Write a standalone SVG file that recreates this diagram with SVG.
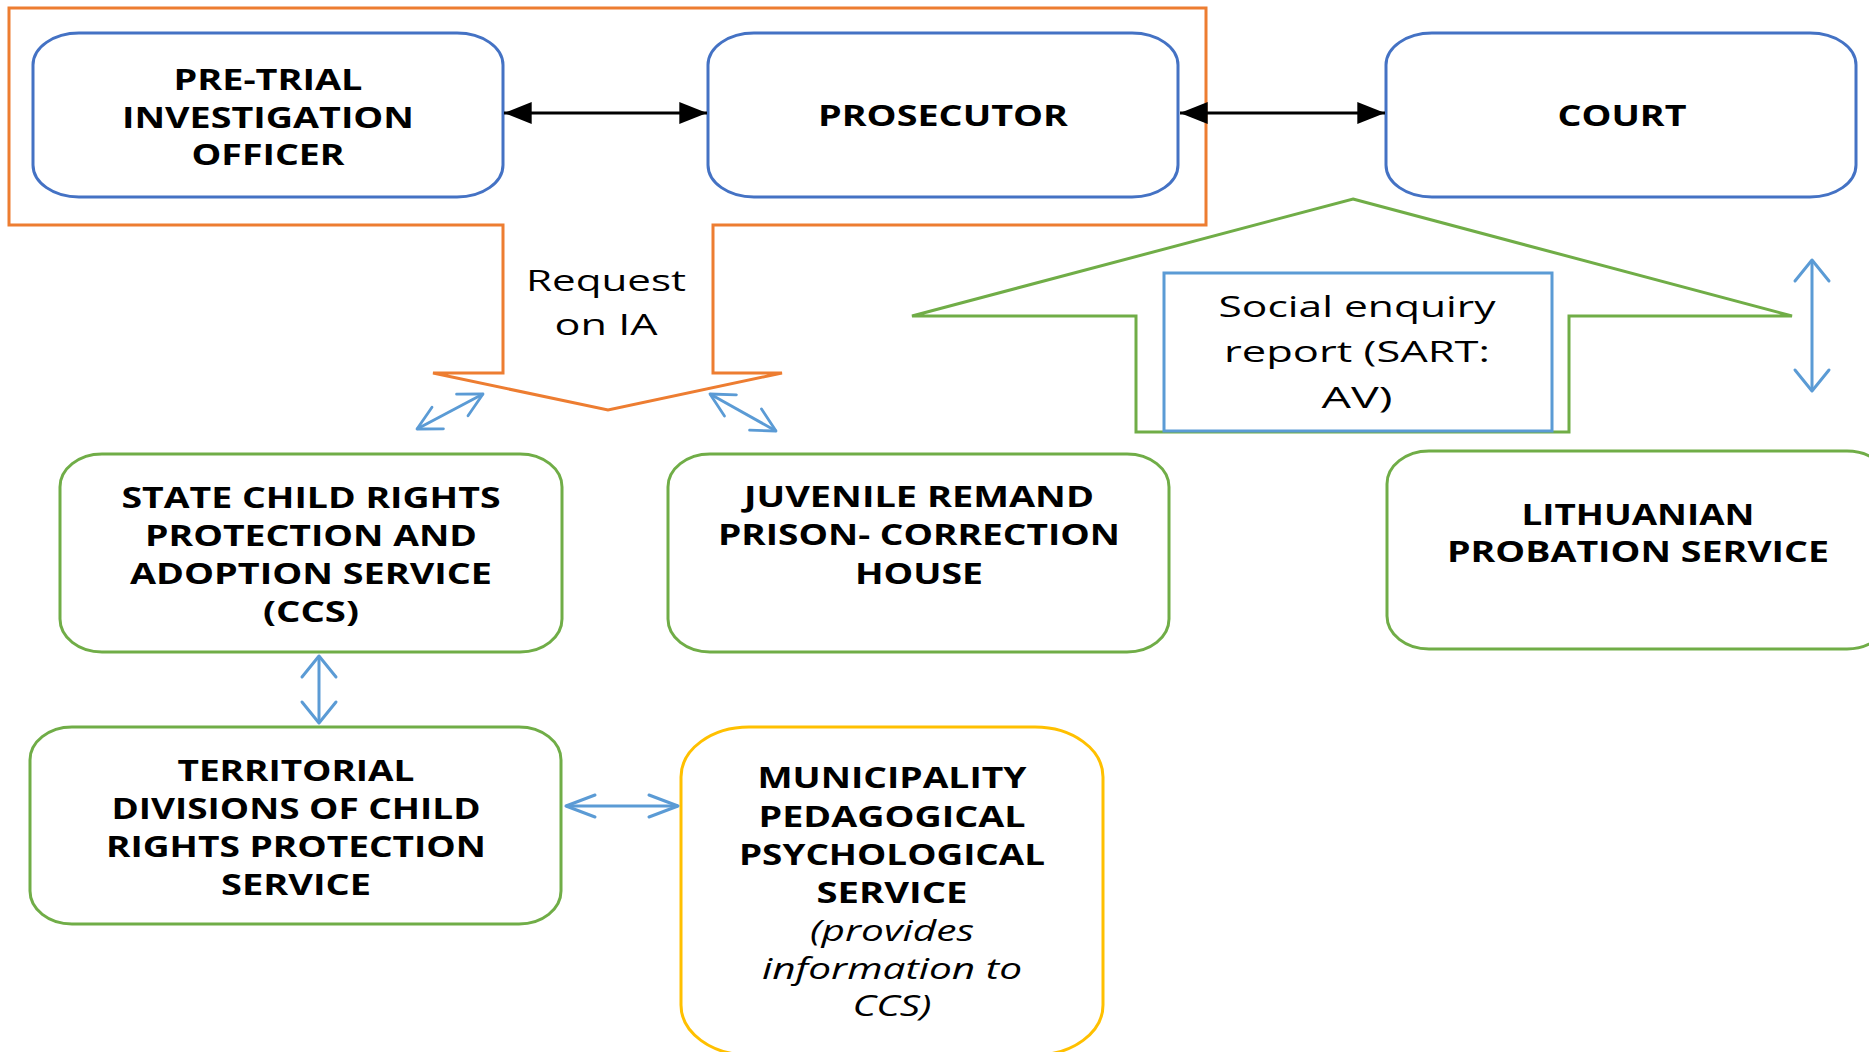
<svg xmlns="http://www.w3.org/2000/svg" width="1869" height="1052" viewBox="0 0 1869 1052">
<defs>
<style>
.bx{fill:#fff;stroke-width:3}
.blue{stroke:#4472C4}
.green{stroke:#70AD47}
.yellow{stroke:#FFC000}
.t{font-family:"Open Sans","Liberation Sans",sans-serif;font-weight:bold;font-size:28px;fill:#000;text-anchor:middle}
.r{font-family:"Open Sans","Liberation Sans",sans-serif;font-size:30px;fill:#000;text-anchor:middle}
.i{font-family:"Open Sans","Liberation Sans",sans-serif;font-style:italic;font-size:29px;fill:#000;text-anchor:middle}
.blk{stroke:#000;stroke-width:3;fill:none}
.lb{stroke:#5B9BD5;stroke-width:3;fill:none}
</style>
<marker id="tri" markerUnits="userSpaceOnUse" markerWidth="30" markerHeight="24" viewBox="-24 -10 26 20" refX="0" refY="0" orient="auto-start-reverse">
<path d="M-24,-9.5 L0,0 L-24,9.5 Z" fill="#000"/>
</marker>
<marker id="chv" markerUnits="userSpaceOnUse" markerWidth="30" markerHeight="40" viewBox="-24 -20 28 40" refX="0" refY="0" orient="auto-start-reverse">
<path d="M-21,-17 L0,0 L-21,17" fill="none" stroke="#5B9BD5" stroke-width="3" stroke-linecap="round" stroke-linejoin="round"/>
</marker>
<marker id="chd" markerUnits="userSpaceOnUse" markerWidth="30" markerHeight="40" viewBox="-28 -20 32 40" refX="0" refY="0" orient="auto-start-reverse">
<path d="M-25,-13 L0,0 L-25,13" fill="none" stroke="#5B9BD5" stroke-width="3" stroke-linecap="round" stroke-linejoin="round"/>
</marker>
<marker id="chh" markerUnits="userSpaceOnUse" markerWidth="36" markerHeight="30" viewBox="-32 -14 36 28" refX="0" refY="0" orient="auto-start-reverse">
<path d="M-29,-11 L0,0 L-29,11" fill="none" stroke="#5B9BD5" stroke-width="3" stroke-linecap="round" stroke-linejoin="round"/>
</marker>
</defs>
<rect width="1869" height="1052" fill="#fff"/>

<g id="request-callout">
<path d="M9,8 H1206 V225 H713 V373 H782 L608,410 L433,373 H503 V225 H9 Z" fill="none" stroke="#ED7D31" stroke-width="3"/>
<text class="r" x="606" y="291" textLength="160" lengthAdjust="spacingAndGlyphs">Request</text>
<text class="r" x="606" y="335" textLength="103" lengthAdjust="spacingAndGlyphs">on IA</text>
</g>

<g id="report-callout">
<path d="M1353,199 L1792,316 H1569 V432 H1136 V316 H912 Z" fill="none" stroke="#70AD47" stroke-width="3"/>
<rect x="1164" y="273" width="388" height="158" fill="#fff" stroke="#5B9BD5" stroke-width="3"/>
<text class="r" x="1357" y="317" textLength="277" lengthAdjust="spacingAndGlyphs">Social enquiry</text>
<text class="r" x="1357" y="362" textLength="266" lengthAdjust="spacingAndGlyphs">report (SART:</text>
<text class="r" x="1357" y="408" textLength="71" lengthAdjust="spacingAndGlyphs">AV)</text>
</g>

<g id="pretrial">
<rect class="bx blue" x="33" y="33" width="470" height="164" rx="46" ry="32"/>
<text class="t" x="268" y="90" textLength="189" lengthAdjust="spacingAndGlyphs">PRE-TRIAL</text>
<text class="t" x="268" y="128" textLength="292" lengthAdjust="spacingAndGlyphs">INVESTIGATION</text>
<text class="t" x="268" y="165" textLength="153" lengthAdjust="spacingAndGlyphs">OFFICER</text>
</g>

<g id="prosecutor">
<rect class="bx blue" x="708" y="33" width="470" height="164" rx="46" ry="32"/>
<text class="t" x="943" y="126" textLength="250" lengthAdjust="spacingAndGlyphs">PROSECUTOR</text>
</g>

<g id="court">
<rect class="bx blue" x="1386" y="33" width="470" height="164" rx="46" ry="32"/>
<text class="t" x="1622" y="126" textLength="129" lengthAdjust="spacingAndGlyphs">COURT</text>
</g>

<g id="ccs">
<rect class="bx green" x="60" y="454" width="502" height="198" rx="42" ry="33"/>
<text class="t" x="311" y="508" textLength="379" lengthAdjust="spacingAndGlyphs">STATE CHILD RIGHTS</text>
<text class="t" x="311" y="546" textLength="332" lengthAdjust="spacingAndGlyphs">PROTECTION AND</text>
<text class="t" x="311" y="584" textLength="362" lengthAdjust="spacingAndGlyphs">ADOPTION SERVICE</text>
<text class="t" x="311" y="622" textLength="96" lengthAdjust="spacingAndGlyphs">(CCS)</text>
</g>

<g id="juvenile">
<rect class="bx green" x="668" y="454" width="501" height="198" rx="42" ry="33"/>
<text class="t" x="919" y="507" textLength="350" lengthAdjust="spacingAndGlyphs">JUVENILE REMAND</text>
<text class="t" x="919" y="545" textLength="402" lengthAdjust="spacingAndGlyphs">PRISON- CORRECTION</text>
<text class="t" x="919" y="584" textLength="128" lengthAdjust="spacingAndGlyphs">HOUSE</text>
</g>

<g id="probation">
<rect class="bx green" x="1387" y="451" width="502" height="198" rx="42" ry="33"/>
<text class="t" x="1638" y="525" textLength="233" lengthAdjust="spacingAndGlyphs">LITHUANIAN</text>
<text class="t" x="1638" y="562" textLength="382" lengthAdjust="spacingAndGlyphs">PROBATION SERVICE</text>
</g>

<g id="territorial">
<rect class="bx green" x="30" y="727" width="531" height="197" rx="42" ry="33"/>
<text class="t" x="296" y="781" textLength="237" lengthAdjust="spacingAndGlyphs">TERRITORIAL</text>
<text class="t" x="296" y="819" textLength="369" lengthAdjust="spacingAndGlyphs">DIVISIONS OF CHILD</text>
<text class="t" x="296" y="857" textLength="380" lengthAdjust="spacingAndGlyphs">RIGHTS PROTECTION</text>
<text class="t" x="296" y="895" textLength="150" lengthAdjust="spacingAndGlyphs">SERVICE</text>
</g>

<g id="municipality">
<rect class="bx yellow" x="681" y="727" width="422" height="328" rx="68" ry="50"/>
<text class="t" x="892" y="788" textLength="269" lengthAdjust="spacingAndGlyphs">MUNICIPALITY</text>
<text class="t" x="892" y="827" textLength="267" lengthAdjust="spacingAndGlyphs">PEDAGOGICAL</text>
<text class="t" x="892" y="865" textLength="306" lengthAdjust="spacingAndGlyphs">PSYCHOLOGICAL</text>
<text class="t" x="892" y="903" textLength="151" lengthAdjust="spacingAndGlyphs">SERVICE</text>
<text class="i" x="892" y="941" textLength="164" lengthAdjust="spacingAndGlyphs">(provides</text>
<text class="i" x="892" y="979" textLength="260" lengthAdjust="spacingAndGlyphs">information to</text>
<text class="i" x="892" y="1016" textLength="79" lengthAdjust="spacingAndGlyphs">CCS)</text>
</g>

<g id="connectors">
<line class="blk" x1="504" y1="113" x2="707" y2="113" marker-start="url(#tri)" marker-end="url(#tri)"/>
<line class="blk" x1="1180" y1="113" x2="1385" y2="113" marker-start="url(#tri)" marker-end="url(#tri)"/>
<line class="lb" x1="417" y1="429" x2="483" y2="394" marker-start="url(#chd)" marker-end="url(#chd)"/>
<line class="lb" x1="710" y1="394" x2="776" y2="431" marker-start="url(#chd)" marker-end="url(#chd)"/>
<line class="lb" x1="1812" y1="260" x2="1812" y2="391" marker-start="url(#chv)" marker-end="url(#chv)"/>
<line class="lb" x1="319" y1="656" x2="319" y2="723" marker-start="url(#chv)" marker-end="url(#chv)"/>
<line class="lb" x1="566" y1="806" x2="678" y2="806" marker-start="url(#chh)" marker-end="url(#chh)"/>
</g>
</svg>
